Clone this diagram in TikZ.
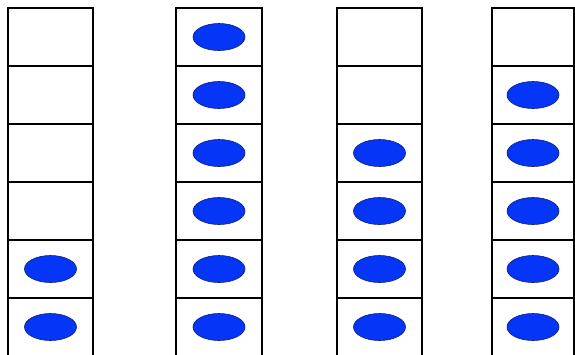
\documentclass[tikz,border=0pt]{standalone}
\usepackage{tikz}
\usetikzlibrary{shapes.geometric}
\definecolor{Dot}{HTML}{0536F8}
\definecolor{DotEdge}{HTML}{0B1F7A}

\begin{document}
\begin{tikzpicture}[x=1pt,y=-1pt,
  cell/.style={draw=black,line width=2pt,minimum height=58pt,inner sep=0pt},
  dot/.style={ellipse,draw=DotEdge,fill=Dot,line width=0.6pt,minimum width=52pt,minimum height=27pt,inner sep=0pt}]
  \useasboundingbox (0,0) rectangle (575,354);
  % columns: name / centre x / width / number of filled cells from the bottom
  \foreach \col/\x/\w/\n in {a/50.5/85/2, b/219/86/6, c/379.5/85/4, d/533/82/5}{
    \foreach \r in {1,...,6}{
      \node[cell,minimum width=\w pt] (\col\r) at (\x,{37+58*(\r-1)}) {};
      \pgfmathtruncatemacro{\lim}{6-\n}
      \ifnum\r>\lim
        \node[dot] (\col\r dot) at (\col\r.center) {};
      \fi
    }
  }
\end{tikzpicture}
\end{document}
